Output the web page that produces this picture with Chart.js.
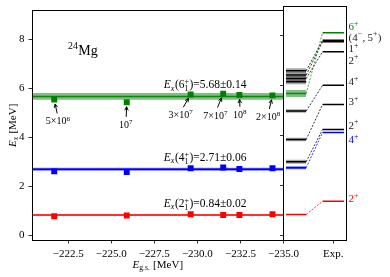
<!DOCTYPE html>
<html><head><meta charset="utf-8">
<script src="https://cdn.jsdelivr.net/npm/chart.js@4.4.1/dist/chart.umd.min.js"></script>
<style>
html,body{margin:0;padding:0;background:#fff;overflow:hidden}
#wrap{position:relative;width:390px;height:277px;background:#fff}
#wrap canvas{position:absolute;left:0;top:0}
</style></head><body>
<div id="wrap"><canvas id="main" width="390" height="277"></canvas><canvas id="lev" width="390" height="277"></canvas></div>
<script>
// ---------------- data ----------------
const runLabels = ['5×10^6', '10^7', '3×10^7', '7×10^7', '10^8', '2×10^8'];
const eGs = [-221.69, -225.90, -229.61, -231.50, -232.44, -234.36];
const ex6 = [5.55, 5.44, 5.76, 5.79, 5.74, 5.72];
const ex4 = [2.62, 2.59, 2.75, 2.78, 2.72, 2.75];
const ex2 = [0.79, 0.82, 0.87, 0.84, 0.84, 0.87];
const fitJ = ['6', '4', '2'];
const fitE = [5.68, 2.71, 0.84];
const fitErr = [0.14, 0.06, 0.02];
const xTicks = [-222.5, -225.0, -227.5, -230.0, -232.5, -235.0];
const yTicks = [0, 2, 4, 6, 8];
const nucleus = '^{24}Mg';
// level scheme (right panel)
const thE   = [0.84, 2.71, 2.95, 3.84, 4.98, 5.68, 6.15, 6.28, 6.42, 6.59];
const thErr = [0.02, 0.06, 0.08, 0.07, 0.07, 0.14, 0.10, 0.10, 0.10, 0.10];
const expE  = [1.37, 4.12, 4.24, 5.24, 6.01, 8.11, 7.35, 7.75, 7.81];
const expJ  = ['2^+', '4^+', '2^+', '3^+', '4^+', '6^+', '2^+', '1^+', '(4^−,\u20095^+)'];
const thToExp = [0, 1, 2, 3, 4, 5, null, 6, 7, 8];
const expTick = ['Exp.'];

// ---------------- layout / style ----------------
const X_MIN = -235.0, X_MAX = -220.4, Y_MIN = -0.18, Y_MAX = 9.18;
const runLabelX = [-221.92, -225.86, -229.04, -231.06, -232.48, -234.12];
const runLabelY = [4.70, 4.56, 4.95, 4.94, 4.97, 4.88];
const fitLabelX = -230.45;
const expLabelY = [1.35, 3.71, 4.28, 5.22, 6.02, 8.22, 6.88, 7.35, 7.80];
const TH_A = 0.04, TH_B = 0.36, EX_A = 0.62, EX_B = 0.96, EXP_TICK = 0.79;
const seriesCol = ['#008000', '#0000ff', '#ff0000'];
const bandFill = ['rgba(0,128,0,0.5)', 'rgba(0,0,255,0.55)', 'rgba(255,0,0,0.5)'];
const lineCol = ['rgba(0,128,0,0.9)', '#0000ff', '#ff0000'];
const specialTh = {0: 2, 1: 1, 5: 0};   // theory index -> series colour index
const specialExp = {0: 2, 1: 1, 5: 0};
const FONT = '"Liberation Serif", "DejaVu Serif", serif';

// ---------------- rich text ----------------
function parseRich(str) {
  const segs = []; let buf = '', it = false, i = 0, lastScript = false;
  const flush = () => { if (buf) { segs.push({t: buf, it}); buf = ''; lastScript = false; } };
  while (i < str.length) {
    const c = str[i];
    if (c === '*') { flush(); it = !it; i++; continue; }
    if (c === '^' || c === '_') {
      flush();
      let j = i + 1, arg;
      if (str[j] === '{') { const k = str.indexOf('}', j); arg = str.slice(j + 1, k); j = k + 1; }
      else { arg = str[j]; j++; }
      const prev = segs[segs.length - 1];
      if (lastScript && prev && !prev.stack && ((c === '^' && prev.sub) || (c === '_' && prev.sup))) {
        const sup = c === '^' ? arg : prev.t, sub = c === '_' ? arg : prev.t;
        segs[segs.length - 1] = {stack: [sup, sub], it};
        lastScript = false;
      } else {
        segs.push({t: arg, sup: c === '^', sub: c === '_', it});
        lastScript = true;
      }
      i = j; continue;
    }
    buf += c; i++;
  }
  flush(); return segs;
}
function fnt(size, it) { return (it ? 'italic ' : '') + size.toFixed(2) + 'px ' + FONT; }
function drawRich(ctx, str, x, y, size, color, align) {
  const segs = parseRich(str); let w = 0;
  for (const s of segs) {
    if (s.stack) { ctx.font = fnt(size * 0.7, false); s.w = Math.max(ctx.measureText(s.stack[0]).width, ctx.measureText(s.stack[1]).width) + 0.5; }
    else { ctx.font = fnt((s.sup || s.sub) ? size * 0.7 : size, s.it); s.w = ctx.measureText(s.t).width + ((s.sup || s.sub) ? 0.5 : 0); }
    w += s.w;
  }
  let cx = align === 'center' ? x - w / 2 : align === 'right' ? x - w : x;
  ctx.save(); ctx.fillStyle = color; ctx.textAlign = 'left'; ctx.textBaseline = 'alphabetic';
  for (const s of segs) {
    if (s.stack) {
      ctx.font = fnt(size * 0.7, false);
      ctx.fillText(s.stack[0], cx, y - size * 0.36);
      ctx.fillText(s.stack[1], cx, y + size * 0.24);
    } else {
      const sm = s.sup || s.sub;
      ctx.font = fnt(sm ? size * 0.7 : size, s.it);
      ctx.fillText(s.t, cx, y + (s.sup ? -size * 0.38 : s.sub ? size * 0.2 : 0));
    }
    cx += s.w;
  }
  ctx.restore(); return w;
}
function drawBox(ctx, a) {
  ctx.save(); ctx.strokeStyle = '#000'; ctx.lineWidth = 1;
  const l = Math.floor(a.left) + 0.5, r = Math.floor(a.right) + 0.5, t = Math.floor(a.top) + 0.5, b = Math.floor(a.bottom) + 0.5;
  ctx.strokeRect(l, t, r - l, b - t); ctx.restore();
}
function arrow(ctx, x0, y0, x1, y1) {
  const ang = Math.atan2(y1 - y0, x1 - x0), h = 4, sp = 0.45;
  ctx.save(); ctx.strokeStyle = '#000'; ctx.lineWidth = 1;
  ctx.beginPath(); ctx.moveTo(x0, y0); ctx.lineTo(x1, y1);
  ctx.moveTo(x1 - h * Math.cos(ang - sp), y1 - h * Math.sin(ang - sp));
  ctx.lineTo(x1, y1);
  ctx.lineTo(x1 - h * Math.cos(ang + sp), y1 - h * Math.sin(ang + sp));
  ctx.stroke(); ctx.restore();
}

// ---------------- main panel ----------------
const mainSets = [];
fitE.forEach((E, k) => {
  mainSets.push({data: [{x: X_MIN, y: E + fitErr[k]}, {x: X_MAX, y: E + fitErr[k]}], borderWidth: 0, pointRadius: 0, fill: '+1', backgroundColor: bandFill[k], order: 3});
  mainSets.push({data: [{x: X_MIN, y: E - fitErr[k]}, {x: X_MAX, y: E - fitErr[k]}], borderWidth: 0, pointRadius: 0, fill: false, order: 3});
  mainSets.push({data: [{x: X_MIN, y: E}, {x: X_MAX, y: E}], borderColor: lineCol[k], borderWidth: 1.5, pointRadius: 0, fill: false, order: 2});
});
[ex6, ex4, ex2].forEach((arr, k) => {
  mainSets.push({data: eGs.map((x, i) => ({x, y: arr[i]})), showLine: false, pointStyle: 'rect', pointRadius: 4.2, pointBorderWidth: 0, pointBackgroundColor: seriesCol[k], pointBorderColor: seriesCol[k], fill: false, order: 1});
});

const mainDeco = {
  id: 'mainDeco',
  afterDatasetsDraw(chart) {
    const {ctx, chartArea: a, scales: {x, y}} = chart;
    fitE.forEach((E, k) => {
      const txt = `*E_x*(${fitJ[k]}_1^+)=${E.toFixed(2)}±${fitErr[k].toFixed(2)}`;
      drawRich(ctx, txt, x.getPixelForValue(fitLabelX), y.getPixelForValue(E) - 8, 11.5, '#000', 'center');
    });
    runLabels.forEach((lab, i) => {
      const px = x.getPixelForValue(eGs[i]), py = y.getPixelForValue(ex6[i]);
      const lx = x.getPixelForValue(runLabelX[i]), ly = y.getPixelForValue(runLabelY[i]);
      drawRich(ctx, lab, lx, ly + 4, 10, '#000', 'center');
      const tx = lx + (px - lx) * 0.25, ty = ly - 7;
      const d = Math.hypot(px - tx, py - ty);
      arrow(ctx, tx, ty, px - (px - tx) / d * 4.5, py - (py - ty) / d * 4.5);
    });
    drawRich(ctx, nucleus, a.left + 36, a.top + 44, 14, '#000', 'left');
  },
  afterDraw(chart) {
    const {ctx, chartArea: a} = chart;
    drawBox(ctx, a);
    drawRich(ctx, '*E*_{g.s.} [MeV]', (a.left + a.right) / 2, 268, 11, '#000', 'center');
    ctx.save(); ctx.translate(15.5, (a.top + a.bottom) / 2); ctx.rotate(-Math.PI / 2);
    drawRich(ctx, '*E_x* [MeV]', 0, 0, 11, '#000', 'center');
    ctx.restore();
  }
};

const tickFont = {family: FONT, size: 11};
const gridOpts = {display: true, drawOnChartArea: false, drawTicks: true, tickLength: 3.5, tickWidth: 0.8, tickColor: '#000'};

new Chart(document.getElementById('main'), {
  type: 'line',
  data: {datasets: mainSets},
  plugins: [mainDeco],
  options: {
    responsive: false, animation: false, devicePixelRatio: 1, events: [],
    layout: {padding: {left: 0, right: 106.5, top: 6, bottom: 0}},
    plugins: {legend: {display: false}, tooltip: {enabled: false}},
    scales: {
      x: {
        type: 'linear', reverse: true, min: X_MIN, max: X_MAX,
        afterBuildTicks: s => { s.ticks = xTicks.map(v => ({value: v})); },
        afterFit: s => { s.height = 37; },
        ticks: {font: tickFont, color: '#000', padding: 4, maxRotation: 0, minRotation: 0, autoSkip: false,
          callback: v => (v < 0 ? '−' : '') + Math.abs(v).toFixed(1)},
        grid: gridOpts, border: {display: false}
      },
      y: {
        type: 'linear', min: Y_MIN, max: Y_MAX,
        afterBuildTicks: s => { s.ticks = yTicks.map(v => ({value: v})); },
        afterFit: s => { s.width = 32; },
        ticks: {font: tickFont, color: '#000', padding: 4, callback: v => String(v)},
        grid: gridOpts, border: {display: false}
      }
    }
  }
});

// ---------------- level scheme panel ----------------
const levSets = [];
thE.forEach((E, i) => {
  const k = specialTh[i];
  const fill = k === undefined ? 'rgba(0,0,0,0.35)' : bandFill[k];
  const col = k === undefined ? '#000' : lineCol[k];
  levSets.push({data: [{x: TH_A, y: E + thErr[i]}, {x: TH_B, y: E + thErr[i]}], borderWidth: 0, pointRadius: 0, fill: '+1', backgroundColor: fill, order: 3});
  levSets.push({data: [{x: TH_A, y: E - thErr[i]}, {x: TH_B, y: E - thErr[i]}], borderWidth: 0, pointRadius: 0, fill: false, order: 3});
  levSets.push({data: [{x: TH_A, y: E}, {x: TH_B, y: E}], borderColor: col, borderWidth: 1.5, pointRadius: 0, fill: false, order: 2});
  const j = thToExp[i];
  if (j !== null) {
    levSets.push({data: [{x: TH_B, y: E}, {x: EX_A, y: expE[j]}], borderColor: col, borderWidth: 0.8, borderDash: [2, 1.5], pointRadius: 0, fill: false, order: 2});
  }
});
expE.forEach((E, i) => {
  const k = specialExp[i];
  levSets.push({data: [{x: EX_A, y: E}, {x: EX_B, y: E}], borderColor: k === undefined ? '#000' : seriesCol[k], borderWidth: 1.6, pointRadius: 0, fill: false, order: 1});
});

const levDeco = {
  id: 'levDeco',
  afterDraw(chart) {
    const {ctx, chartArea: a, scales: {y}} = chart;
    drawBox(ctx, a);
    expJ.forEach((j, i) => {
      const k = specialExp[i];
      drawRich(ctx, j, a.right + 2, y.getPixelForValue(expLabelY[i]), 11, k === undefined ? '#222' : seriesCol[k], 'left');
    });
  }
};

new Chart(document.getElementById('lev'), {
  type: 'line',
  data: {datasets: levSets},
  plugins: [levDeco],
  options: {
    responsive: false, animation: false, devicePixelRatio: 1, events: [],
    layout: {padding: {left: 280, right: 43.5, top: 6, bottom: 0}},
    plugins: {legend: {display: false}, tooltip: {enabled: false}},
    scales: {
      x: {
        type: 'linear', min: 0, max: 1,
        afterBuildTicks: s => { s.ticks = [{value: EXP_TICK}]; },
        afterFit: s => { s.height = 37; },
        ticks: {font: tickFont, color: '#000', padding: 4, maxRotation: 0, minRotation: 0, autoSkip: false, callback: () => expTick[0]},
        grid: gridOpts, border: {display: false}
      },
      y: {
        type: 'linear', min: Y_MIN, max: Y_MAX,
        afterBuildTicks: s => { s.ticks = yTicks.map(v => ({value: v})); },
        afterFit: s => { s.width = 3.5; },
        ticks: {display: false},
        grid: gridOpts, border: {display: false}
      }
    }
  }
});
</script>
</body></html>
